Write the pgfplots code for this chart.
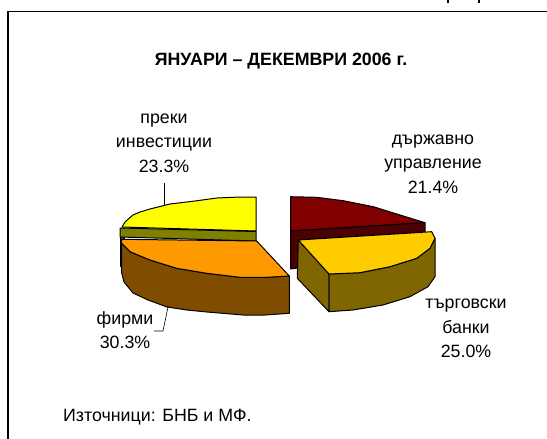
\documentclass[border=0pt]{standalone}
\usepackage{pgfplots}
\pgfplotsset{compat=1.18}
\usepackage{fontspec}
\setmainfont{Liberation Sans}
\definecolor{pureyellow}{RGB}{255,255,0}
\begin{document}
\begin{tikzpicture}
\begin{axis}[scale only axis,width=547pt,height=439pt,xmin=0,xmax=547,ymin=0,ymax=439,y dir=reverse,hide axis,clip=true,
 every axis plot/.append style={draw=black,line width=1pt,line join=round}]
\path (axis cs:0,0) -- (axis cs:547,439);
% frame: only the left and top edges are visible
\addplot[draw=black,line width=1.2pt] coordinates {(8,439)(8,11.5)(547,11.5)};
\addplot[draw=black,line width=1.2pt] coordinates {(448,0)(448,3)};
\addplot[draw=black,line width=1.2pt] coordinates {(479,0)(479,3)};
% left slices
\addplot[fill=black!70!olive] coordinates {(120,228)(120,266)(124,266)(124,228)} --cycle;
\addplot[fill=pureyellow] coordinates {(256,197)(240,197)(217,198)(195,201)(170,204)(150,209)(140,212)(133,215)(125,222)(122,227)(256,231)} --cycle;
\addplot[fill={rgb,255:red,128;green,128;blue,0}] coordinates {(120,228)(256,231.5)(256,241)(120,237)} --cycle;
\addplot[fill={rgb,255:red,128;green,77;blue,0}] coordinates {(121.7,243)(121.7,273)(124,282)(133,293)(148,300)(167,307)(187,310)(207,312)(243,315)(265,315)(289.3,313.3)(289.3,276)(266.7,277.3)(240,277.3)(206.7,273.3)(176.7,268.3)(150,260)(130,251.7)} --cycle;
\addplot[fill={rgb,255:red,255;green,153;blue,0}] coordinates {(121.7,239.3)(256.7,241)(289.3,276)(266.7,277.3)(240,277.3)(206.7,273.3)(176.7,268.3)(150,260)(130,251.7)(121.7,243.3)} --cycle;
% right slices
\addplot[fill={rgb,255:red,128;green,0;blue,0}] coordinates {(290.7,196.7)(316.7,197.3)(343.3,200.7)(373.3,206.7)(400,215)(425,222.7)(290.7,231)} --cycle;
\addplot[fill={rgb,255:red,77;green,0;blue,0}] coordinates {(290.7,231)(425,222.7)(425,232)(298,240)(298,268)(290.7,269)} --cycle;
\addplot[fill={rgb,255:red,128;green,102;blue,0}] coordinates {(298.3,240)(329,274)(329,311.7)(297.3,278.3)} --cycle;
\addplot[fill={rgb,255:red,128;green,102;blue,0}] coordinates {(329,274)(360,272.7)(390,266.7)(416.7,258.3)(430,248.3)(435,238.3)(435,276.7)(428,286.7)(410,296.7)(383,305)(353,310)(329,311.7)} --cycle;
\addplot[fill={rgb,255:red,255;green,204;blue,0}] coordinates {(298.3,240)(431.7,231.7)(435,238.3)(430,248.3)(416.7,258.3)(390,266.7)(360,272.7)(329,274)} --cycle;
% leaders
\addplot[line width=0.6pt] coordinates {(164,183)(164,205)};
\addplot[line width=0.6pt] coordinates {(168,307)(163,331)(154,331)};
\node[font=\fontsize{17.8pt}{20pt}\selectfont\bfseries,anchor=center] at (axis cs:281,61) {ЯНУАРИ – ДЕКЕМВРИ  2006 г.};
\node[font=\fontsize{17.8pt}{24.5pt}\selectfont,align=center] at (axis cs:164,143) {преки\\инвестиции\\23.3\%};
\node[font=\fontsize{17.8pt}{24.5pt}\selectfont,align=center] at (axis cs:433,164) {държавно\\управление\\21.4\%};
\node[font=\fontsize{17.8pt}{24.5pt}\selectfont,align=center] at (axis cs:466,328.5) {търговски\\банки\\25.0\%};
\node[font=\fontsize{17.8pt}{24.5pt}\selectfont,align=center] at (axis cs:125,330) {фирми\\30.3\%};
\node[font=\fontsize{17.8pt}{20pt}\selectfont,anchor=west,inner sep=0pt] at (axis cs:63,417.5) {Източници: БНБ и МФ.};
\end{axis}
\end{tikzpicture}
\end{document}
